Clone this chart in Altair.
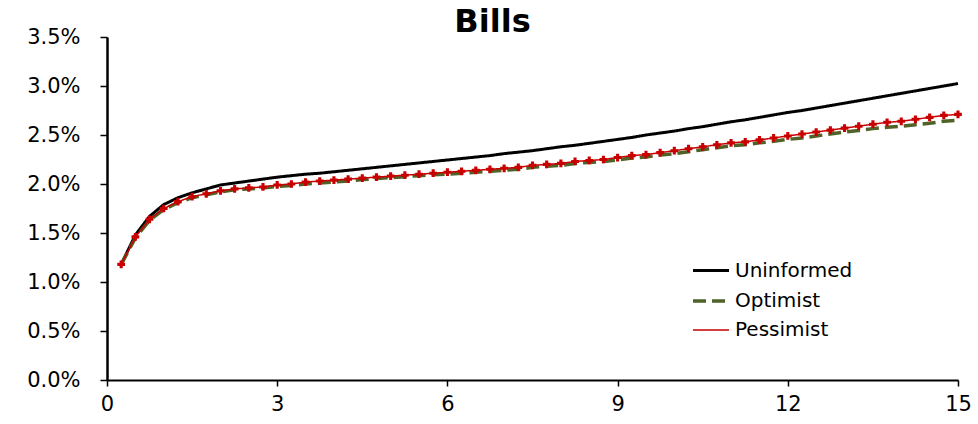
import altair as alt
import pandas as pd

maturity = [0.25, 0.5, 0.75, 1.0, 1.25, 1.5, 1.75, 2.0, 2.25, 2.5, 2.75, 3.0,
            3.25, 3.5, 3.75, 4.0, 4.25, 4.5, 4.75, 5.0, 5.25, 5.5, 5.75, 6.0,
            6.25, 6.5, 6.75, 7.0, 7.25, 7.5, 7.75, 8.0, 8.25, 8.5, 8.75, 9.0,
            9.25, 9.5, 9.75, 10.0, 10.25, 10.5, 10.75, 11.0, 11.25, 11.5, 11.75, 12.0,
            12.25, 12.5, 12.75, 13.0, 13.25, 13.5, 13.75, 14.0, 14.25, 14.5, 14.75, 15.0]

uninformed = [1.18, 1.48, 1.67, 1.79, 1.86, 1.91, 1.95, 1.99, 2.01, 2.03, 2.05, 2.07,
              2.085, 2.10, 2.11, 2.125, 2.14, 2.155, 2.17, 2.185, 2.20, 2.215, 2.23, 2.245,
              2.26, 2.275, 2.29, 2.31, 2.325, 2.34, 2.36, 2.38, 2.395, 2.415, 2.435, 2.455,
              2.475, 2.50, 2.52, 2.54, 2.565, 2.585, 2.61, 2.635, 2.655, 2.68, 2.705, 2.73,
              2.75, 2.775, 2.80, 2.825, 2.85, 2.875, 2.90, 2.925, 2.95, 2.975, 3.00, 3.025]

optimist = [1.18, 1.45, 1.63, 1.74, 1.81, 1.86, 1.89, 1.92, 1.94, 1.95, 1.96, 1.975,
            1.985, 2.00, 2.01, 2.02, 2.03, 2.045, 2.055, 2.065, 2.075, 2.085, 2.095, 2.10,
            2.11, 2.12, 2.13, 2.14, 2.15, 2.17, 2.18, 2.19, 2.21, 2.22, 2.23, 2.245,
            2.265, 2.275, 2.295, 2.31, 2.33, 2.35, 2.37, 2.39, 2.40, 2.42, 2.435, 2.455,
            2.47, 2.49, 2.51, 2.53, 2.545, 2.565, 2.58, 2.59, 2.605, 2.62, 2.64, 2.65]

pessimist = [1.18, 1.46, 1.64, 1.75, 1.82, 1.87, 1.90, 1.93, 1.95, 1.96, 1.97, 1.99,
             2.00, 2.02, 2.03, 2.04, 2.05, 2.06, 2.07, 2.08, 2.09, 2.10, 2.11, 2.12,
             2.13, 2.14, 2.15, 2.16, 2.17, 2.19, 2.20, 2.21, 2.23, 2.24, 2.25, 2.27,
             2.29, 2.30, 2.32, 2.34, 2.36, 2.38, 2.40, 2.42, 2.43, 2.45, 2.47, 2.49,
             2.51, 2.53, 2.55, 2.57, 2.59, 2.61, 2.63, 2.64, 2.66, 2.68, 2.70, 2.71]

series_names = ["Uninformed", "Optimist", "Pessimist"]
series_colors = ["#000000", "#4F6228", "#C80000"]
series_dash = [[1, 0], [13, 6], [1, 0]]
series_width = [3, 3.5, 1.5]
x_ticks = [0, 3, 6, 9, 12, 15]
y_ticks = [0, 0.005, 0.01, 0.015, 0.02, 0.025, 0.03, 0.035]

rows = []
for name, vals in zip(series_names, [uninformed, optimist, pessimist]):
    for m, v in zip(maturity, vals):
        rows.append({"maturity": m, "yield": v / 100.0, "series": name})
df = pd.DataFrame(rows)

FONT = "DejaVu Sans"

x_axis = alt.Axis(values=x_ticks, title=None, format="d", grid=False,
                  domainColor="black", domainWidth=2, tickColor="black",
                  tickWidth=1.5, tickSize=6, labelFontSize=21,
                  labelFont=FONT, labelColor="black", labelPadding=7,
                  labelFlush=False)
y_axis = alt.Axis(values=y_ticks, title=None, format=".1%", grid=False,
                  domainColor="black", domainWidth=2.5, tickColor="black",
                  tickWidth=1.5, tickSize=7, labelFontSize=21,
                  labelFont=FONT, labelColor="black", labelPadding=20)
x_scale = alt.Scale(domain=[0, 15], nice=False, zero=False)
y_scale = alt.Scale(domain=[0, 0.035], nice=False)

color_scale = alt.Scale(domain=series_names, range=series_colors)
dash_scale = alt.Scale(domain=series_names, range=series_dash)
width_scale = alt.Scale(type="ordinal", domain=series_names, range=series_width)

legend = alt.Legend(title=None, orient="none", legendX=584, legendY=214,
                    symbolType="stroke", symbolSize=1296,
                    labelFontSize=20, labelFont=FONT, labelColor="black",
                    labelOffset=4, rowPadding=-2, padding=0)

lines = alt.Chart(df).mark_line().encode(
    x=alt.X("maturity:Q", scale=x_scale, axis=x_axis),
    y=alt.Y("yield:Q", scale=y_scale, axis=y_axis),
    color=alt.Color("series:N", scale=color_scale, legend=legend),
    strokeDash=alt.StrokeDash("series:N", scale=dash_scale, legend=legend),
    strokeWidth=alt.StrokeWidth("series:N", scale=width_scale, legend=legend),
    order=alt.Order("maturity:Q"),
    detail="series:N",
)

points = alt.Chart(df).transform_filter(
    alt.datum.series == "Pessimist"
).mark_point(shape="cross", filled=True, size=60, color="#C80000", opacity=1).encode(
    x=alt.X("maturity:Q", scale=x_scale, axis=x_axis),
    y=alt.Y("yield:Q", scale=y_scale, axis=y_axis),
)

chart = alt.layer(lines, points).properties(
    width=851,
    height=343,
    background="white",
    title=alt.TitleParams("Bills", fontSize=32, font=FONT, fontWeight="bold",
                          color="black", anchor="middle", dx=-40, dy=13, offset=0),
    autosize=alt.AutoSizeParams(type="none"),
    padding={"left": 107, "top": 37, "right": 20, "bottom": 44},
).configure_view(strokeWidth=0, stroke=None).configure_axis(grid=False)

chart.save("out.html", embed_options={"renderer": "svg", "actions": False})
